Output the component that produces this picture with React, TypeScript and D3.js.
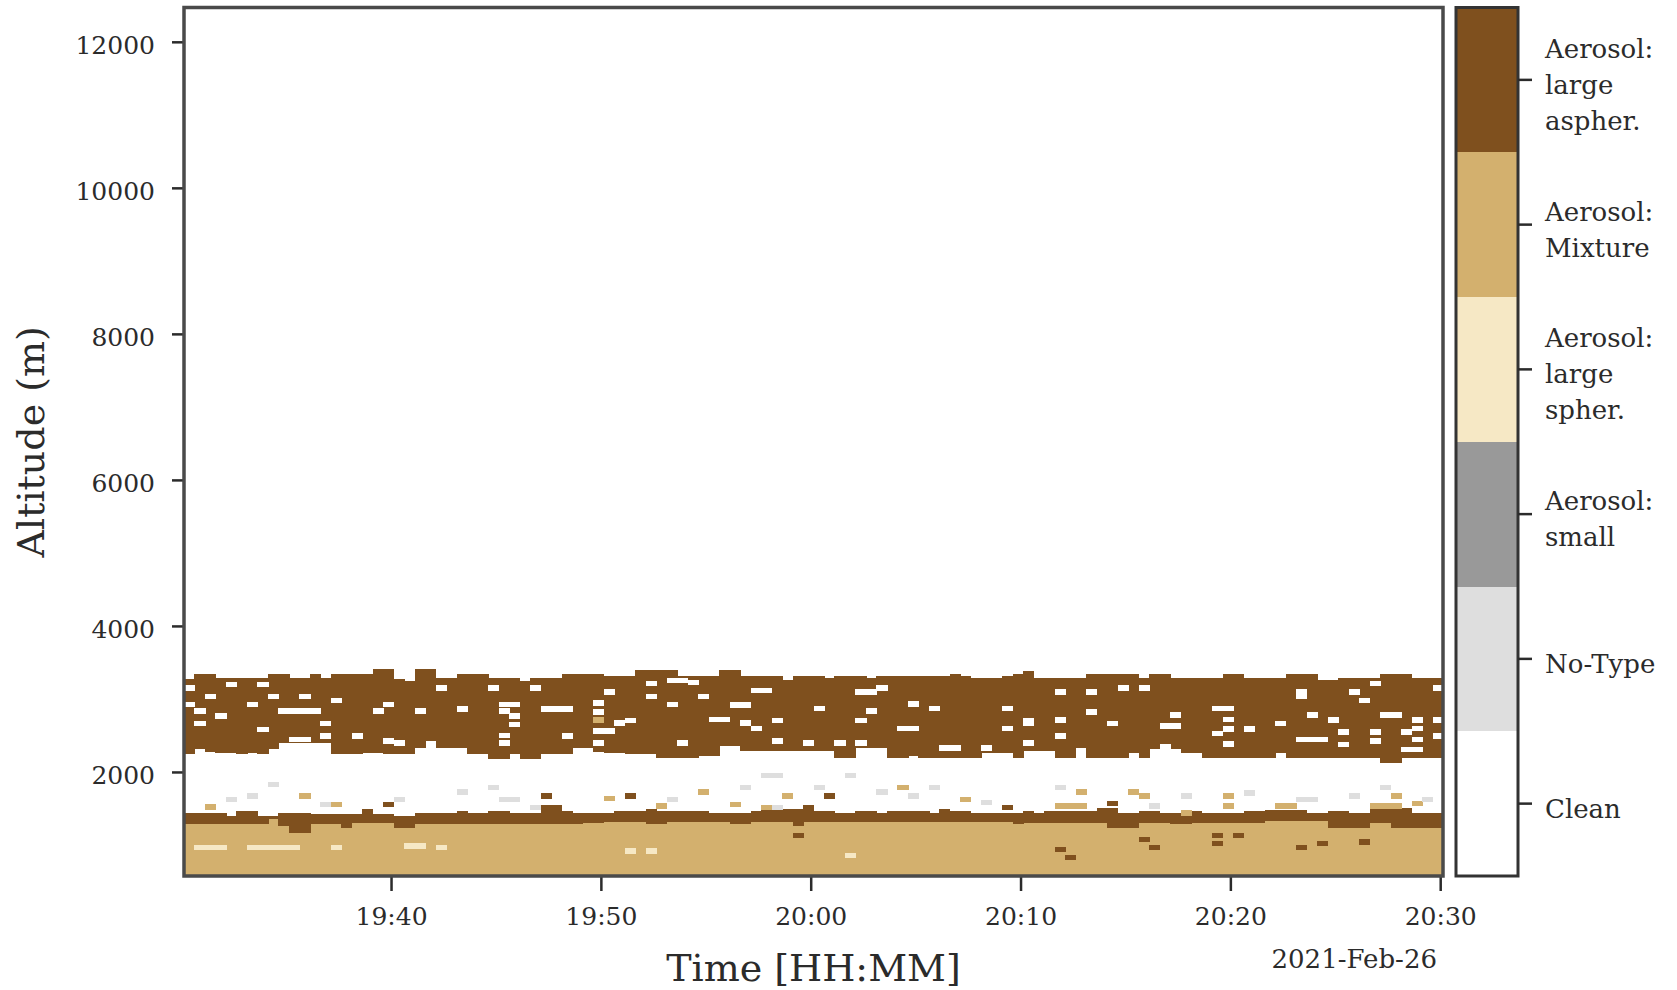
import * as d3 from "d3";
import React, { useRef, useEffect } from "react";

// time columns: 30 s each starting 19:30:08
const START = new Date(2021, 1, 26, 19, 30, 8);
const END = new Date(2021, 1, 26, 20, 30, 8);
const COL_SECONDS = 30;
const ALT_MIN = 575;
const ALT_MAX = 12470;
const GATE = 75; // height of a single range gate (m)

// top of upper aerosol layer (large aspher.), m
const upperTop = [
  3270, 3340, 3340, 3290, 3290, 3290, 3290, 3290, 3340, 3340,
  3290, 3290, 3340, 3290, 3340, 3340, 3340, 3340, 3410, 3410,
  3270, 3250, 3410, 3410, 3290, 3290, 3340, 3340, 3340, 3290,
  3290, 3290, 3250, 3290, 3290, 3290, 3340, 3340, 3340, 3340,
  3320, 3320, 3320, 3390, 3390, 3390, 3390, 3320, 3320, 3320,
  3320, 3390, 3390, 3320, 3320, 3320, 3320, 3260, 3320, 3320,
  3320, 3290, 3320, 3320, 3320, 3290, 3320, 3320, 3320, 3320,
  3320, 3320, 3320, 3340, 3320, 3290, 3290, 3290, 3320, 3340,
  3380, 3290, 3290, 3290, 3290, 3290, 3340, 3340, 3340, 3340,
  3340, 3290, 3340, 3340, 3290, 3290, 3290, 3290, 3290, 3340,
  3340, 3290, 3290, 3290, 3290, 3340, 3340, 3340, 3260, 3260,
  3290, 3290, 3290, 3290, 3340, 3340, 3340, 3290, 3290, 3290,
];

// bottom of upper aerosol layer, m
const upperBottom = [
  2240, 2308, 2280, 2260, 2260, 2240, 2260, 2240, 2308, 2400,
  2400, 2400, 2400, 2400, 2240, 2240, 2240, 2260, 2260, 2240,
  2240, 2240, 2331, 2421, 2331, 2331, 2331, 2240, 2240, 2171,
  2171, 2240, 2171, 2171, 2240, 2240, 2240, 2331, 2331, 2280,
  2262, 2262, 2240, 2240, 2240, 2194, 2194, 2194, 2194, 2217,
  2217, 2353, 2353, 2285, 2285, 2285, 2285, 2285, 2285, 2285,
  2285, 2285, 2194, 2194, 2331, 2331, 2331, 2194, 2194, 2217,
  2194, 2194, 2194, 2194, 2194, 2194, 2262, 2262, 2262, 2194,
  2285, 2285, 2285, 2194, 2194, 2331, 2194, 2194, 2194, 2194,
  2262, 2194, 2308, 2308, 2308, 2262, 2262, 2194, 2194, 2194,
  2194, 2194, 2194, 2194, 2262, 2194, 2194, 2194, 2194, 2194,
  2194, 2194, 2194, 2194, 2126, 2126, 2194, 2194, 2194, 2194,
];

// top of the thin lower large-aspher. band, m
const lowerBandTop = [
  1432, 1432, 1432, 1432, 1396, 1465, 1465, 1396, 1396, 1432,
  1432, 1432, 1418, 1418, 1418, 1418, 1418, 1497, 1418, 1418,
  1396, 1396, 1432, 1432, 1432, 1432, 1465, 1432, 1432, 1465,
  1465, 1432, 1432, 1432, 1542, 1542, 1465, 1432, 1432, 1432,
  1432, 1465, 1465, 1465, 1497, 1465, 1465, 1465, 1465, 1465,
  1432, 1432, 1432, 1432, 1465, 1497, 1497, 1497, 1497, 1497,
  1465, 1465, 1432, 1432, 1465, 1465, 1432, 1465, 1465, 1465,
  1465, 1432, 1497, 1465, 1465, 1432, 1432, 1432, 1432, 1432,
  1465, 1432, 1465, 1465, 1465, 1465, 1465, 1510, 1510, 1432,
  1432, 1465, 1465, 1432, 1432, 1465, 1465, 1432, 1432, 1432,
  1432, 1465, 1465, 1480, 1480, 1480, 1480, 1432, 1432, 1465,
  1465, 1432, 1432, 1510, 1510, 1510, 1510, 1432, 1432, 1432,
];

// top of the mixture layer near ground, m
const mixtureTop = [
  1282, 1282, 1282, 1282, 1282, 1282, 1282, 1282, 1350, 1260,
  1168, 1168, 1282, 1282, 1282, 1237, 1305, 1305, 1305, 1305,
  1237, 1237, 1282, 1282, 1282, 1282, 1282, 1282, 1282, 1282,
  1282, 1282, 1282, 1282, 1282, 1282, 1282, 1282, 1305, 1305,
  1320, 1320, 1320, 1320, 1282, 1282, 1320, 1320, 1320, 1320,
  1320, 1320, 1282, 1282, 1320, 1320, 1320, 1320, 1260, 1320,
  1320, 1320, 1320, 1320, 1320, 1320, 1320, 1320, 1320, 1320,
  1320, 1320, 1320, 1320, 1320, 1320, 1320, 1320, 1320, 1282,
  1305, 1305, 1305, 1305, 1305, 1305, 1305, 1305, 1237, 1237,
  1237, 1305, 1305, 1305, 1282, 1282, 1305, 1305, 1305, 1305,
  1305, 1305, 1305, 1328, 1328, 1328, 1328, 1328, 1328, 1237,
  1237, 1237, 1237, 1305, 1305, 1237, 1237, 1237, 1237, 1237,
];

// isolated gates: [column, altitude m, number of columns]
const cleanSpots = [
  [4, 3197, 1], [7, 3197, 1], [0, 3151, 1], [2, 3037, 1], [8, 3037, 1], [11, 3037, 1],
  [14, 2982, 1], [24, 3151, 1], [29, 3151, 1], [33, 3151, 1], [40, 3092, 1],
  [6, 2923, 1], [0, 2923, 1], [19, 2923, 1], [30, 2923, 1], [31, 2923, 1], [39, 2946, 1],
  [1, 2832, 1], [9, 2832, 4], [18, 2832, 1], [22, 2832, 1], [26, 2865, 1], [30, 2832, 1],
  [34, 2865, 3], [39, 2818, 1], [3, 2764, 1], [31, 2764, 1], [1, 2663, 1], [13, 2663, 1],
  [31, 2650, 1], [7, 2581, 1], [39, 2558, 1], [13, 2490, 1], [16, 2490, 1], [30, 2500, 1],
  [36, 2490, 1], [10, 2445, 2], [19, 2421, 1], [20, 2399, 1], [30, 2399, 1], [39, 2399, 1],
  [46, 3256, 2], [44, 3210, 1], [48, 3228, 1], [54, 3119, 2], [40, 3096, 1], [44, 3037, 1],
  [49, 3037, 1], [64, 3096, 2], [66, 3151, 1], [46, 2923, 1], [52, 2914, 2], [60, 2869, 1],
  [65, 2832, 1], [69, 2932, 1], [71, 2869, 1], [78, 2869, 1], [41, 2672, 1], [42, 2704, 1],
  [50, 2718, 2], [53, 2672, 1], [54, 2595, 1], [56, 2704, 1], [64, 2704, 1], [68, 2595, 2],
  [78, 2595, 1], [80, 2672, 1], [40, 2558, 1], [47, 2399, 1], [56, 2421, 1], [59, 2399, 1],
  [62, 2399, 1], [64, 2399, 1], [72, 2331, 2], [76, 2331, 1], [80, 2399, 1],
  [83, 3096, 1], [86, 3096, 1], [89, 3151, 1], [91, 3151, 1], [106, 3096, 1], [106, 3040, 1],
  [111, 3096, 1], [113, 3210, 1], [112, 2982, 1], [119, 3151, 1], [80, 2704, 1], [83, 2709, 1],
  [86, 2823, 1], [88, 2663, 1], [93, 2627, 2], [94, 2778, 1], [98, 2869, 1], [99, 2869, 1],
  [99, 2718, 1], [99, 2590, 1], [101, 2590, 1], [98, 2526, 1], [104, 2663, 1], [107, 2778, 1],
  [109, 2709, 1], [110, 2544, 1], [114, 2778, 2], [113, 2549, 1], [116, 2549, 1], [117, 2709, 1],
  [119, 2709, 1], [117, 2595, 1], [83, 2490, 1], [119, 2490, 1], [106, 2445, 3], [113, 2421, 1],
  [117, 2445, 1], [110, 2376, 1], [93, 2344, 1], [99, 2385, 1], [116, 2308, 2],
];

const spherSpots = [
  [1, 963, 3], [6, 963, 5], [14, 963, 1], [21, 985, 2], [24, 963, 1],
  [42, 917, 1], [44, 917, 1], [63, 858, 1],
];

const asphSpots = [
  [58, 1132, 1], [91, 1077, 1], [92, 963, 1], [98, 1132, 1], [100, 1132, 1], [98, 1018, 1],
  [106, 963, 1], [108, 1018, 1], [112, 1040, 1], [84, 826, 1], [83, 940, 1],
  [42, 1670, 1], [61, 1670, 1], [59, 1510, 1], [78, 1510, 1], [88, 1565, 1], [34, 1670, 1],
  [19, 1556, 1],
];

const mixtureSpots = [
  [39, 2709, 1], [11, 1670, 1], [14, 1556, 1], [40, 1633, 1], [49, 1724, 1], [57, 1670, 1],
  [45, 1534, 1], [52, 1556, 1], [55, 1510, 1], [74, 1624, 1], [85, 1724, 1], [90, 1724, 1],
  [91, 1670, 1], [99, 1670, 1], [115, 1670, 1], [117, 1570, 1], [83, 1534, 3], [95, 1440, 1],
  [99, 1534, 1], [104, 1534, 2], [113, 1534, 3], [2, 1520, 1], [68, 1784, 1],
];

const noTypeSpots = [
  [8, 1829, 1], [4, 1624, 1], [6, 1670, 1], [13, 1556, 1], [20, 1624, 1], [26, 1724, 1],
  [29, 1784, 1], [30, 1624, 2], [33, 1510, 1], [55, 1952, 2], [63, 1952, 1], [53, 1784, 1],
  [60, 1784, 1], [66, 1724, 1], [71, 1784, 1], [69, 1670, 1], [46, 1624, 1], [76, 1579, 1],
  [83, 1784, 1], [95, 1670, 1], [101, 1715, 1], [106, 1624, 2], [111, 1670, 1], [114, 1788, 1],
  [118, 1624, 1], [92, 1534, 1], [56, 1510, 1],
];

const classLabels = [
  ["Aerosol:", "large", "aspher."],
  ["Aerosol:", "Mixture"],
  ["Aerosol:", "large", "spher."],
  ["Aerosol:", "small"],
  ["No-Type"],
  ["Clean"],
];
const classColors = ["#7f501e", "#d3b06e", "#f6e8c5", "#999999", "#dedede", "#ffffff"];

const timeTicks = ["19:40", "19:50", "20:00", "20:10", "20:20", "20:30"];
const altTicks = [2000, 4000, 6000, 8000, 10000, 12000];

const FONT = "'DejaVu Serif', serif";
const INK = "#2b2b2b";

const App = () => {
  const ref = useRef(null);

  useEffect(() => {
    if (!ref.current) return;
    const svg = d3.select(ref.current);
    svg.selectAll("*").remove();

    const left = 184, right = 1443, top = 7.5, bottom = 876;

    const x = d3.scaleTime().domain([START, END]).range([left, right]);
    const y = d3.scaleLinear().domain([ALT_MIN, ALT_MAX]).range([bottom, top]);
    const colTime = (i) => new Date(START.getTime() + i * COL_SECONDS * 1000);
    const colX = (i) => x(colTime(i));
    const colW = (n) => colX(n) - colX(0) + 0.6;

    svg.append("rect").attr("width", 1677).attr("height", 990).attr("fill", "#fff");

    svg
      .append("clipPath")
      .attr("id", "plot-clip")
      .append("rect")
      .attr("x", left)
      .attr("y", top)
      .attr("width", right - left)
      .attr("height", bottom - top);

    const plot = svg
      .append("g")
      .attr("clip-path", "url(#plot-clip)")
      .attr("shape-rendering", "crispEdges");

    const columns = d3.range(upperTop.length);

    // mixture layer near ground
    plot
      .selectAll(".mix")
      .data(columns)
      .join("rect")
      .attr("x", (i) => colX(i))
      .attr("width", colW(1))
      .attr("y", (i) => y(mixtureTop[i]))
      .attr("height", (i) => y(ALT_MIN) - y(mixtureTop[i]))
      .attr("fill", classColors[1]);

    // thin large-aspher. band
    plot
      .selectAll(".lowband")
      .data(columns)
      .join("rect")
      .attr("x", (i) => colX(i))
      .attr("width", colW(1))
      .attr("y", (i) => y(lowerBandTop[i]))
      .attr("height", (i) => y(mixtureTop[i]) - y(lowerBandTop[i]))
      .attr("fill", classColors[0]);

    // upper large-aspher. layer
    plot
      .selectAll(".upper")
      .data(columns)
      .join("rect")
      .attr("x", (i) => colX(i))
      .attr("width", colW(1))
      .attr("y", (i) => y(upperTop[i]))
      .attr("height", (i) => y(upperBottom[i]) - y(upperTop[i]))
      .attr("fill", classColors[0]);

    const drawSpots = (spots, color) => {
      plot
        .append("g")
        .selectAll("rect")
        .data(spots)
        .join("rect")
        .attr("x", (d) => colX(d[0]))
        .attr("width", (d) => colW(d[2]))
        .attr("y", (d) => y(d[1] + GATE / 2))
        .attr("height", y(0) - y(GATE))
        .attr("fill", color);
    };
    drawSpots(cleanSpots, classColors[5]);
    drawSpots(spherSpots, classColors[2]);
    drawSpots(asphSpots, classColors[0]);
    drawSpots(mixtureSpots, classColors[1]);
    drawSpots(noTypeSpots, classColors[4]);

    // x axis
    const tickDates = timeTicks.map((t) => {
      const [h, m] = t.split(":").map(Number);
      return new Date(2021, 1, 26, h, m);
    });
    const xAxis = svg
      .append("g")
      .attr("transform", "translate(0," + bottom + ")")
      .call(
        d3
          .axisBottom(x)
          .tickValues(tickDates)
          .tickFormat(d3.timeFormat("%H:%M"))
          .tickSize(15)
          .tickPadding(16)
      );
    xAxis.select(".domain").remove();
    xAxis.selectAll("line").attr("stroke", INK).attr("stroke-width", 2.5);
    xAxis
      .selectAll("text")
      .style("font-family", FONT)
      .style("font-size", "25px")
      .attr("fill", INK);

    // y axis
    const yAxis = svg
      .append("g")
      .attr("transform", "translate(" + left + ",0)")
      .call(
        d3
          .axisLeft(y)
          .tickValues(altTicks)
          .tickFormat(d3.format("d"))
          .tickSize(12)
          .tickPadding(17)
      );
    yAxis.select(".domain").remove();
    yAxis.selectAll("line").attr("stroke", INK).attr("stroke-width", 2.5);
    yAxis
      .selectAll("text")
      .attr("dy", "0.48em")
      .style("font-family", FONT)
      .style("font-size", "25px")
      .attr("fill", INK);

    // frame
    svg
      .append("rect")
      .attr("x", left)
      .attr("y", top)
      .attr("width", right - left)
      .attr("height", bottom - top)
      .attr("fill", "none")
      .attr("stroke", "#4a4a4a")
      .attr("stroke-width", 3.5);

    // axis titles
    svg
      .append("text")
      .attr("transform", "translate(44," + (top + bottom) / 2 + ") rotate(-90)")
      .attr("text-anchor", "middle")
      .style("font-family", FONT)
      .style("font-size", "38px")
      .attr("fill", INK)
      .text("Altitude (m)");

    svg
      .append("text")
      .attr("x", (left + right) / 2)
      .attr("y", 981)
      .attr("text-anchor", "middle")
      .style("font-family", FONT)
      .style("font-size", "38px")
      .attr("fill", INK)
      .text("Time [HH:MM]");

    svg
      .append("text")
      .attr("x", 1437)
      .attr("y", 968)
      .attr("text-anchor", "end")
      .style("font-family", FONT)
      .style("font-size", "26px")
      .attr("fill", INK)
      .text(d3.timeFormat("%Y-%b-%d")(START));

    // colour bar
    const cbLeft = 1456, cbRight = 1518;
    const cb = d3
      .scaleBand()
      .domain(d3.range(classLabels.length))
      .range([top, bottom]);

    const bar = svg.append("g");
    bar
      .selectAll("rect")
      .data(d3.range(classLabels.length))
      .join("rect")
      .attr("x", cbLeft)
      .attr("width", cbRight - cbLeft)
      .attr("y", (i) => cb(i))
      .attr("height", cb.bandwidth() + 0.5)
      .attr("fill", (i) => classColors[i])
      .attr("shape-rendering", "crispEdges");

    bar
      .append("rect")
      .attr("x", cbLeft)
      .attr("y", top)
      .attr("width", cbRight - cbLeft)
      .attr("height", bottom - top)
      .attr("fill", "none")
      .attr("stroke", "#333")
      .attr("stroke-width", 3);

    const legend = bar
      .selectAll(".lab")
      .data(d3.range(classLabels.length))
      .join("g")
      .attr("transform", (i) => "translate(0," + (cb(i) + cb.bandwidth() / 2) + ")");

    legend
      .append("line")
      .attr("x1", cbRight)
      .attr("x2", cbRight + 14)
      .attr("stroke", INK)
      .attr("stroke-width", 2.5);

    legend.each(function (i) {
      const lines = classLabels[i];
      const g = d3.select(this);
      lines.forEach((line, k) => {
        g.append("text")
          .attr("x", 1545)
          .attr("y", 5 + (k - (lines.length - 1) / 2) * 36 + 9)
          .style("font-family", FONT)
          .style("font-size", "26px")
          .attr("fill", INK)
          .text(line);
      });
    });
  }, []);

  return (
    <div style={{ position: "absolute", left: 0, top: 0 }}>
      <svg ref={ref} width={1677} height={990} style={{ display: "block" }} />
    </div>
  );
};

export default App;
